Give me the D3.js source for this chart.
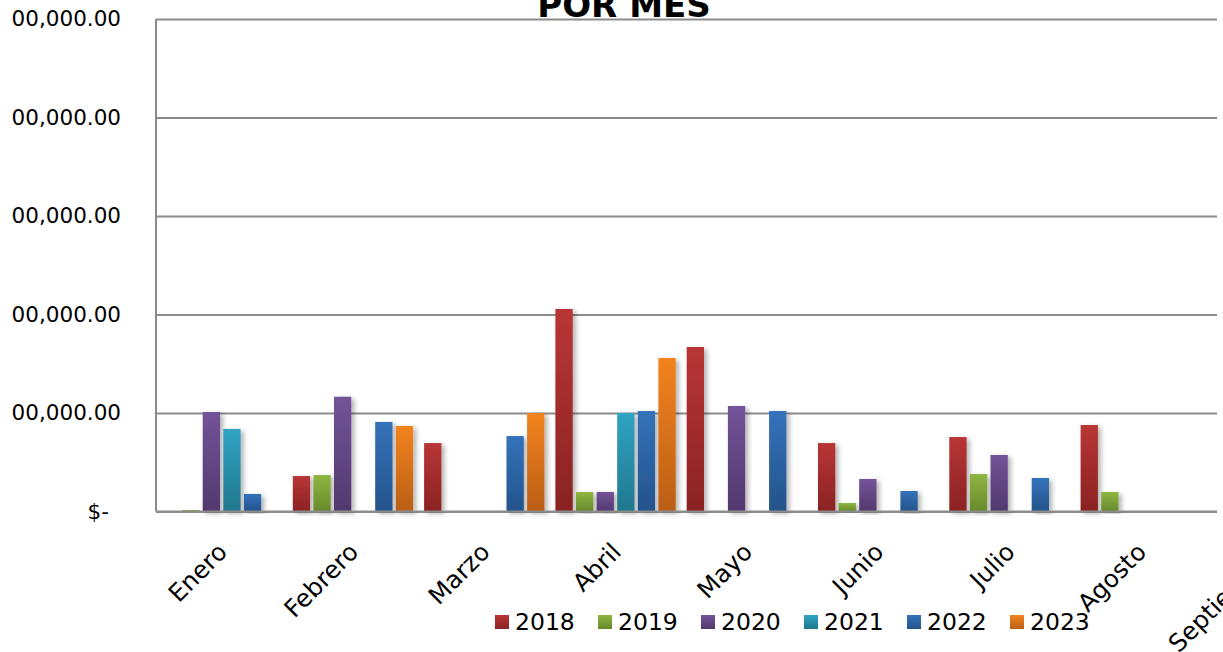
<!DOCTYPE html>
<html>
<head>
<meta charset="utf-8">
<script src="https://cdn.jsdelivr.net/npm/d3@7"></script>
<style>
    body { margin: 0; background: #fff; }
    text { font-family: "DejaVu Sans", sans-serif; fill: #000; }
</style>
</head>
<body>
<div id="chart-area"></div>
<script>
// Data
var months = ["Enero", "Febrero", "Marzo", "Abril", "Mayo", "Junio", "Julio", "Agosto", "Septiembre"];
var years = ["2018", "2019", "2020", "2021", "2022", "2023"];

var ventas2018 = [0, 36000, 69500, 205600, 167000, 69500, 75600, 87800, 0];
var ventas2019 = [1500, 37000, 0, 19800, 0, 8600, 38000, 19800, 0];
var ventas2020 = [101000, 116500, 0, 19800, 107100, 33000, 57400, 0, 0];
var ventas2021 = [83800, 0, 0, 100000, 0, 0, 0, 0, 0];
var ventas2022 = [17800, 90900, 76600, 102000, 102000, 20800, 34000, 0, 0];
var ventas2023 = [0, 86800, 100000, 155800, 0, 0, 0, 0, 0];

var yTicks = [0, 100000, 200000, 300000, 400000, 500000];

var series = {
    "2018": ventas2018, "2019": ventas2019, "2020": ventas2020,
    "2021": ventas2021, "2022": ventas2022, "2023": ventas2023
};

// top / bottom colour of each bar gradient
var colors = {
    "2018": ["#B93535", "#8A2323"],
    "2019": ["#8EB641", "#68892C"],
    "2020": ["#735398", "#52386E"],
    "2021": ["#30A4C3", "#21778E"],
    "2022": ["#3472BA", "#24538B"],
    "2023": ["#F3831F", "#BA5E15"]
};

BarChart = function (_parentElement){
    this.parentElement = _parentElement;
    this.initVis();
};

BarChart.prototype.initVis = function(){
    var vis = this;

    vis.margin = { left: 156, top: 19 };
    vis.height = 492.5;
    vis.gridWidth = 1061;
    vis.step = 131.3;

    vis.svg = d3.select(vis.parentElement)
        .append("svg")
        .attr("width", 1223)
        .attr("height", 652);

    var defs = vis.svg.append("defs");

    // bar gradients
    years.forEach(function(yr){
        var grad = defs.append("linearGradient")
            .attr("id", "grad" + yr)
            .attr("x1", 0).attr("y1", 0).attr("x2", 0).attr("y2", 1);
        grad.append("stop").attr("offset", "0%").attr("stop-color", colors[yr][0]);
        grad.append("stop").attr("offset", "100%").attr("stop-color", colors[yr][1]);
    });

    // soft shadow under bars
    var f = defs.append("filter")
        .attr("id", "shadow")
        .attr("x", "-40%").attr("y", "-10%")
        .attr("width", "180%").attr("height", "120%");
    f.append("feDropShadow")
        .attr("dx", 3).attr("dy", 2)
        .attr("stdDeviation", 2.5)
        .attr("flood-color", "#000")
        .attr("flood-opacity", 0.3);

    // the picture is cut on the left side
    defs.append("clipPath").attr("id", "leftcut")
        .append("rect")
        .attr("x", 11 - vis.margin.left).attr("y", -30)
        .attr("width", 400).attr("height", 600);

    vis.g = vis.svg.append("g")
        .attr("transform", "translate(" + vis.margin.left + "," + vis.margin.top + ")");

    // Title (top is cut off)
    vis.svg.append("text")
        .attr("x", 624)
        .attr("y", 17)
        .attr("text-anchor", "middle")
        .attr("font-size", "34px")
        .attr("font-weight", "bold")
        .text("POR MES");

    // Scales
    vis.x0 = d3.scaleBand()
        .domain(months)
        .range([0, months.length * vis.step]);
    vis.x1 = d3.scaleBand()
        .domain(years)
        .range([0, vis.x0.bandwidth()])
        .paddingInner(0.16)
        .paddingOuter(0.267);
    vis.y = d3.scaleLinear()
        .domain([0, 500000])
        .range([vis.height, 0]);

    // Y-axis + gridlines
    var fmt = d3.format("$,.2f");
    vis.yAxisCall = d3.axisLeft(vis.y)
        .tickValues(yTicks)
        .tickSize(-vis.gridWidth)
        .tickPadding(35)
        .tickFormat(function(d){ return d === 0 ? "$-" : fmt(d); });
    vis.yAxis = vis.g.append("g")
        .attr("class", "y axis")
        .call(vis.yAxisCall);
    vis.yAxis.select(".domain").remove();
    vis.yAxis.selectAll("line")
        .attr("stroke", "#8c8c8c")
        .attr("stroke-width", 2);
    vis.yAxis.selectAll("text")
        .attr("font-size", "21.5px")
        .attr("clip-path", "url(#leftcut)")
        .attr("dx", function(d){ return d === 0 ? -12 : 0; });

    // vertical axis line
    vis.g.append("line")
        .attr("x1", 0).attr("x2", 0)
        .attr("y1", 0).attr("y2", vis.height)
        .attr("stroke", "#8c8c8c")
        .attr("stroke-width", 2);

    // X-axis
    vis.xAxisCall = d3.axisBottom(vis.x0).tickSize(0);
    vis.xAxis = vis.g.append("g")
        .attr("class", "x axis")
        .attr("transform", "translate(0," + vis.height + ")")
        .call(vis.xAxisCall);
    vis.xAxis.select(".domain").remove();
    vis.xAxis.selectAll("text")
        .attr("y", 0)
        .attr("dy", 0)
        .attr("font-size", "24.5px")
        .attr("text-anchor", "end")
        .attr("transform", "translate(7,42) rotate(-45)");

    vis.wrangleData();
};

BarChart.prototype.wrangleData = function(){
    var vis = this;

    vis.data = months.map(function(m, i){
        return {
            month: m,
            values: years.map(function(yr){ return { year: yr, value: series[yr][i] }; })
        };
    });

    vis.updateVis();
};

BarChart.prototype.updateVis = function(){
    var vis = this;

    var groups = vis.g.insert("g", ".x.axis")
        .attr("class", "bars")
        .selectAll("g")
        .data(vis.data)
        .enter().append("g")
        .attr("transform", function(d){ return "translate(" + vis.x0(d.month) + ",0)"; });

    groups.selectAll("rect")
        .data(function(d){ return d.values.filter(function(v){ return v.value > 0; }); })
        .enter().append("rect")
        .attr("x", function(d){ return vis.x1(d.year); })
        .attr("y", function(d){ return vis.y(d.value); })
        .attr("width", vis.x1.bandwidth())
        .attr("height", function(d){ return vis.height - vis.y(d.value); })
        .attr("fill", function(d){ return "url(#grad" + d.year + ")"; })
        .attr("filter", "url(#shadow)");

    // bring the baseline back over the shadows
    vis.g.append("line")
        .attr("x1", 0).attr("x2", vis.gridWidth)
        .attr("y1", vis.y(0)).attr("y2", vis.y(0))
        .attr("stroke", "#8c8c8c")
        .attr("stroke-width", 2);

    // Legend
    var legend = vis.svg.append("g")
        .attr("transform", "translate(495,615)");
    var item = legend.selectAll("g")
        .data(years)
        .enter().append("g")
        .attr("transform", function(d, i){ return "translate(" + (i * 103) + ",0)"; });
    item.append("rect")
        .attr("width", 14)
        .attr("height", 14)
        .attr("fill", function(d){ return "url(#grad" + d + ")"; });
    item.append("text")
        .attr("x", 20)
        .attr("y", 7)
        .attr("dy", "0.36em")
        .attr("font-size", "23.5px")
        .text(function(d){ return d; });
};

new BarChart("#chart-area");
</script>
</body>
</html>
